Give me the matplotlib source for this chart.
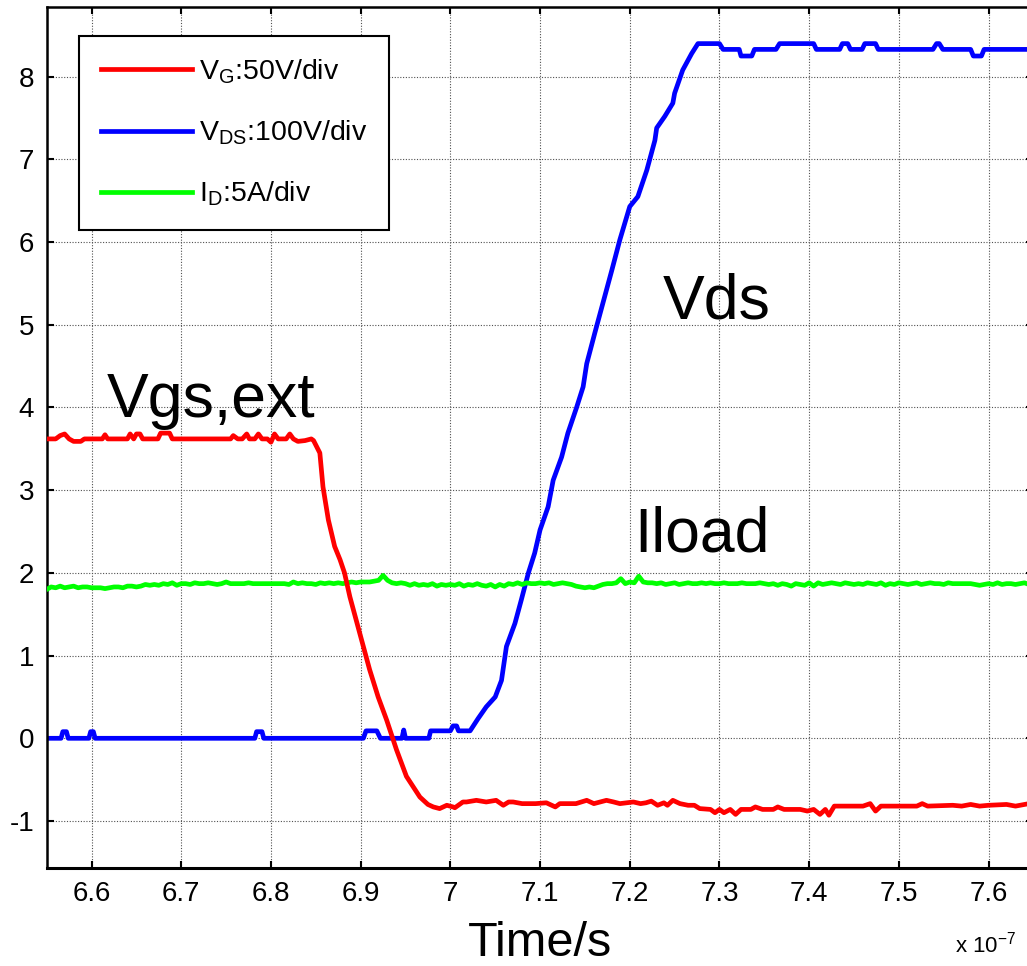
import numpy as np
import matplotlib
matplotlib.use("Agg")
import matplotlib.pyplot as plt

plt.rcParams['font.family'] = ['Liberation Sans', 'DejaVu Sans']
plt.rcParams['mathtext.default'] = 'regular'
plt.rcParams['axes.unicode_minus'] = False

# ---------------- data (time in units of 1e-7 s) ----------------
red_t = [6.550, 6.560, 6.565, 6.570, 6.575, 6.580, 6.588, 6.592, 6.612, 6.615, 6.618,
         6.640, 6.643, 6.647, 6.650, 6.654, 6.657, 6.674, 6.677, 6.687, 6.690,
         6.755, 6.758, 6.763, 6.768, 6.773, 6.776, 6.782, 6.786, 6.790, 6.796,
         6.800, 6.804, 6.808, 6.817, 6.821, 6.825, 6.830, 6.838, 6.845,
         6.8475, 6.8545, 6.858, 6.864, 6.871, 6.877, 6.882, 6.888, 6.894, 6.901,
         6.910, 6.9195, 6.929, 6.940, 6.951, 6.966, 6.975, 6.981, 6.988, 6.996,
         7.003, 7.005, 7.014, 7.018, 7.029, 7.040, 7.051, 7.059, 7.065, 7.070,
         7.080, 7.095, 7.107, 7.117, 7.122, 7.130, 7.140, 7.152, 7.160, 7.167,
         7.174, 7.182, 7.189, 7.197, 7.204, 7.212, 7.218, 7.224, 7.231, 7.238,
         7.242, 7.248, 7.256, 7.265, 7.272, 7.278, 7.290, 7.295, 7.300, 7.305,
         7.312, 7.318, 7.324, 7.335, 7.340, 7.348, 7.360, 7.365, 7.372, 7.390,
         7.398, 7.405, 7.412, 7.418, 7.422, 7.428, 7.460, 7.468, 7.474, 7.480,
         7.500, 7.520, 7.526, 7.532, 7.560, 7.570, 7.580, 7.590, 7.600, 7.620,
         7.630, 7.645, 7.650]
red_v = [3.62, 3.62, 3.66, 3.68, 3.62, 3.59, 3.59, 3.62, 3.62, 3.67, 3.62,
         3.62, 3.68, 3.62, 3.68, 3.68, 3.62, 3.62, 3.69, 3.69, 3.62,
         3.62, 3.66, 3.62, 3.62, 3.68, 3.62, 3.62, 3.68, 3.62, 3.62,
         3.58, 3.68, 3.62, 3.62, 3.68, 3.62, 3.59, 3.60, 3.62,
         3.60, 3.45, 3.04, 2.64, 2.32, 2.16, 2.00, 1.71, 1.47, 1.19,
         0.83, 0.50, 0.22, -0.14, -0.46, -0.71, -0.80, -0.83, -0.85, -0.81,
         -0.83, -0.84, -0.77, -0.77, -0.75, -0.77, -0.75, -0.81, -0.77, -0.77,
         -0.79, -0.79, -0.78, -0.83, -0.79, -0.79, -0.79, -0.75, -0.79, -0.77,
         -0.75, -0.77, -0.79, -0.78, -0.77, -0.79, -0.78, -0.76, -0.81, -0.78,
         -0.81, -0.75, -0.79, -0.81, -0.81, -0.85, -0.86, -0.90, -0.86, -0.90,
         -0.86, -0.92, -0.86, -0.86, -0.83, -0.86, -0.86, -0.83, -0.86, -0.86,
         -0.88, -0.86, -0.92, -0.86, -0.93, -0.82, -0.82, -0.79, -0.88, -0.82,
         -0.82, -0.82, -0.79, -0.82, -0.81, -0.82, -0.80, -0.82, -0.81, -0.80,
         -0.82, -0.79, -0.80]

blue_t = [6.550, 6.566, 6.568, 6.572, 6.574, 6.597, 6.599, 6.602, 6.604, 6.782,
          6.784, 6.790, 6.792, 6.903, 6.906, 6.918, 6.922, 6.946, 6.948, 6.950,
          6.976, 6.978, 7.000, 7.003, 7.007, 7.009, 7.022, 7.031, 7.040, 7.050,
          7.057, 7.0625, 7.072, 7.079, 7.087, 7.094, 7.100, 7.109, 7.1146, 7.124,
          7.131, 7.1407, 7.148, 7.152, 7.161, 7.170, 7.180, 7.189, 7.200, 7.209,
          7.219, 7.228, 7.230, 7.239, 7.248, 7.250, 7.259, 7.269, 7.276, 7.300,
          7.304, 7.322, 7.324, 7.336, 7.339, 7.363, 7.367, 7.405, 7.408, 7.434,
          7.437, 7.443, 7.446, 7.459, 7.462, 7.474, 7.477, 7.538, 7.542, 7.545,
          7.549, 7.580, 7.583, 7.592, 7.595, 7.650]
blue_v = [0.00, 0.00, 0.08, 0.08, 0.00, 0.00, 0.08, 0.08, 0.00, 0.00,
          0.08, 0.08, 0.00, 0.00, 0.09, 0.09, 0.00, 0.00, 0.10, 0.00,
          0.00, 0.09, 0.09, 0.15, 0.15, 0.09, 0.09, 0.24, 0.38, 0.50,
          0.70, 1.11, 1.39, 1.67, 2.00, 2.24, 2.52, 2.80, 3.12, 3.40,
          3.69, 4.00, 4.25, 4.53, 4.90, 5.26, 5.66, 6.03, 6.43, 6.55,
          6.87, 7.23, 7.38, 7.52, 7.68, 7.80, 8.08, 8.28, 8.40, 8.40,
          8.33, 8.33, 8.25, 8.25, 8.33, 8.33, 8.40, 8.40, 8.33, 8.33,
          8.40, 8.40, 8.33, 8.33, 8.40, 8.40, 8.33, 8.33, 8.40, 8.40,
          8.33, 8.33, 8.25, 8.25, 8.33, 8.33]

green_t0, green_dt = 6.550, 0.005
green_v = [1.80, 1.83, 1.82, 1.84, 1.82, 1.83, 1.84, 1.82, 1.83, 1.83, 1.82,
           1.82, 1.82, 1.81, 1.82, 1.83, 1.83, 1.82, 1.84, 1.84, 1.83,
           1.84, 1.86, 1.85, 1.86, 1.85, 1.87, 1.86, 1.88, 1.85, 1.87,
           1.87, 1.86, 1.88, 1.87, 1.87, 1.88, 1.87, 1.86, 1.87, 1.89,
           1.87, 1.87, 1.87, 1.87, 1.88, 1.87, 1.87, 1.87, 1.87, 1.87,
           1.87, 1.87, 1.87, 1.86, 1.89, 1.87, 1.88, 1.87, 1.87, 1.86,
           1.88, 1.87, 1.88, 1.87, 1.88, 1.87, 1.88, 1.89, 1.88, 1.89,
           1.89, 1.89, 1.90, 1.91, 1.97, 1.91, 1.88, 1.87, 1.88, 1.87,
           1.85, 1.87, 1.85, 1.86, 1.85, 1.87, 1.84, 1.86, 1.85, 1.86,
           1.85, 1.87, 1.84, 1.86, 1.85, 1.87, 1.85, 1.84, 1.86, 1.83,
           1.86, 1.84, 1.87, 1.86, 1.88, 1.86, 1.88, 1.87, 1.87, 1.88,
           1.87, 1.88, 1.86, 1.87, 1.88, 1.87, 1.86, 1.84, 1.83, 1.82,
           1.83, 1.82, 1.84, 1.86, 1.87, 1.87, 1.88, 1.93, 1.87, 1.89,
           1.88, 1.96, 1.89, 1.88, 1.88, 1.87, 1.88, 1.86, 1.87, 1.88,
           1.86, 1.87, 1.88, 1.87, 1.87, 1.88, 1.87, 1.88, 1.87, 1.87,
           1.88, 1.87, 1.87, 1.87, 1.88, 1.87, 1.87, 1.87, 1.88, 1.87,
           1.86, 1.87, 1.85, 1.87, 1.86, 1.84, 1.87, 1.86, 1.85, 1.88,
           1.84, 1.88, 1.86, 1.87, 1.88, 1.87, 1.86, 1.88, 1.87, 1.86,
           1.87, 1.86, 1.88, 1.87, 1.86, 1.88, 1.85, 1.87, 1.86, 1.88,
           1.87, 1.86, 1.87, 1.88, 1.86, 1.87, 1.88, 1.87, 1.87, 1.86,
           1.88, 1.87, 1.87, 1.87, 1.87, 1.87, 1.86, 1.85, 1.86, 1.87,
           1.86, 1.88, 1.86, 1.87, 1.87, 1.86, 1.87, 1.88, 1.86, 1.87]
green_t = green_t0 + green_dt * np.arange(len(green_v))

series_labels = [r'V$_{G}$:50V/div', r'V$_{DS}$:100V/div', r'I$_{D}$:5A/div']
x_ticks = [6.6, 6.7, 6.8, 6.9, 7.0, 7.1, 7.2, 7.3, 7.4, 7.5, 7.6]
x_ticklabels = ['6.6', '6.7', '6.8', '6.9', '7', '7.1', '7.2', '7.3', '7.4', '7.5', '7.6']
y_ticks = [-1, 0, 1, 2, 3, 4, 5, 6, 7, 8]
x_label = 'Time/s'
annotations = [('Vgs,ext', 6.617, 3.89), ('Vds', 7.237, 5.08), ('Iload', 7.205, 2.26)]

# ---------------- figure ----------------
fig = plt.figure(figsize=(10.27, 9.66), dpi=100)
ax = fig.add_axes([0.04547, 0.10114, 0.9608, 0.8913])

lw = 3.4
l1, = ax.plot(red_t, red_v, color=(1, 0, 0), lw=lw, zorder=4, label=series_labels[0])
l2, = ax.plot(blue_t, blue_v, color=(0, 0, 1), lw=lw, zorder=2, label=series_labels[1])
l3, = ax.plot(green_t, green_v, color=(0, 1, 0), lw=lw, zorder=3, label=series_labels[2])

ax.set_xlim(6.55, 7.65)
ax.set_ylim(-1.572, 8.839)
ax.set_xticks(x_ticks)
ax.set_xticklabels(x_ticklabels)
ax.set_yticks(y_ticks)
ax.tick_params(direction='in', length=5, width=1.5, labelsize=20,
               top=True, right=True, pad=9)
ax.grid(True, color='#505050', linestyle=(0, (1, 1.5)), linewidth=0.8)
ax.set_axisbelow(True)
for s in ax.spines.values():
    s.set_linewidth(1.8)
ax.spines['bottom'].set_linewidth(2.2)

ax.set_xlabel(x_label, fontsize=35, labelpad=10)

for txt, xx, yy in annotations:
    ax.text(xx, yy, txt, fontsize=45, ha='left', va='baseline', zorder=5)

fig.text(0.930, 0.0135, r'x 10$^{-7}$', fontsize=16, ha='left', va='baseline')

leg = ax.legend(handles=[l1, l2, l3], loc='upper left',
                bbox_to_anchor=(0.033, 0.9667), fontsize=20.5,
                frameon=True, fancybox=False, shadow=False, framealpha=1,
                edgecolor='black', handlelength=3.2, handletextpad=0.25,
                labelspacing=1.15, borderpad=0.75, borderaxespad=0)
leg.get_frame().set_linewidth(1.5)
for h in leg.get_lines():
    h.set_linewidth(3.4)

fig.savefig('out.png', dpi=100)
